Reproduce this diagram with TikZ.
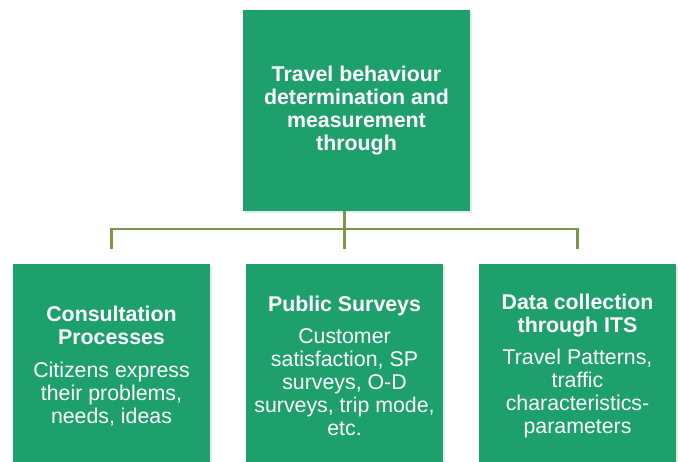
\documentclass[tikz,border=0pt]{standalone}
\usepackage{fontspec}
\setmainfont{Liberation Sans}
\usetikzlibrary{positioning, shadows}
\definecolor{boxgreen}{RGB}{30,160,108}
\definecolor{branch}{RGB}{122,153,70}
\tikzstyle{block} = [fill=boxgreen, text=white, align=center, inner sep=4pt, font=\fontsize{16}{17.25}\selectfont, drop shadow={shadow xshift=1.2pt, shadow yshift=-1.5pt, opacity=0.18}]
\tikzstyle{root} = [block, minimum width=170.25pt, minimum height=150.75pt, font=\bfseries\fontsize{16}{17.25}\selectfont]
\tikzstyle{leaf} = [block, minimum width=147.75pt, minimum height=153pt]
\tikzstyle{link} = [draw=branch, line width=1.6pt]

\begin{document}
\begin{tikzpicture}[x=0.75pt, y=-0.75pt, node distance=26.6pt]
    \useasboundingbox (0,0) rectangle (680,461);
    \clip (0,0) rectangle (680,461);

    \node (root) [root] at (356.5,110.5) {Travel behaviour\\determination and\\measurement\\through};
    \node (survey) [leaf] at (344.5,366) {\textbf{Public Surveys}\\[7pt]Customer\\satisfaction, SP\\surveys, O-D\\surveys, trip mode,\\etc.};
    \node (consult) [leaf, left=of survey] {\textbf{Consultation}\\\textbf{Processes}\\[7pt]Citizens express\\their problems,\\needs, ideas};
    \node (its) [leaf, right=of survey] {\textbf{Data collection}\\\textbf{through ITS}\\[7pt]Travel Patterns,\\traffic\\characteristics-\\parameters};
    \coordinate (bus) at ([yshift=-13.5pt]root.south);

    % Branches.
    \draw [link] (root.south -| survey) -- ([yshift=11.25pt]survey.north);
    \draw [link] ([yshift=11.25pt]consult.north) |- (bus) -| ([yshift=11.25pt]its.north);
\end{tikzpicture}
\end{document}
